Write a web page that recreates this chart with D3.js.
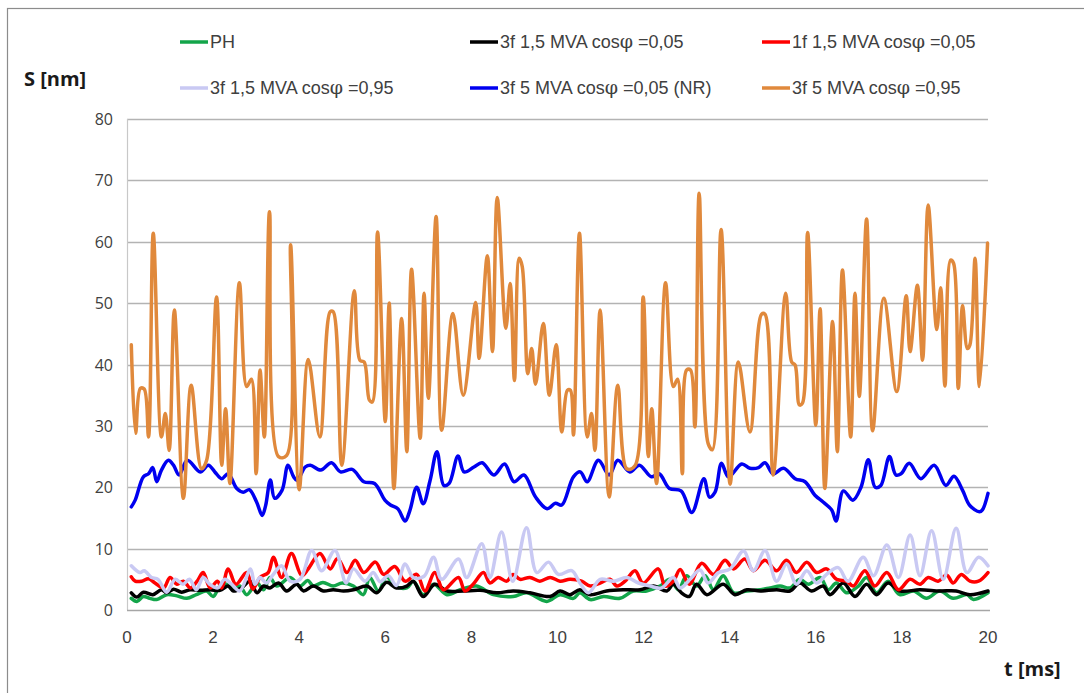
<!DOCTYPE html>
<html>
<head>
<meta charset="utf-8">
<script src="https://cdn.jsdelivr.net/npm/d3@7"></script>
<style>
  body { margin: 0; background: #fff; }
  svg { display: block; }
</style>
</head>
<body>
<script>
// t [ms], S [nm] (peaks and troughs)
const ph = [[0.1,1.9],[0.23,1.4],[0.38,2.2],[0.53,1.9],[0.69,1.7],[0.92,2.5],[1.16,2.3],[1.39,1.9],[1.61,2.5],[1.85,3.1],[2.0,2.2],[2.16,3.9],[2.31,4.2],[2.47,3.3],[2.62,3.9],[2.78,2.5],[3.02,4.4],[3.17,3.3],[3.32,5.3],[3.48,3.9],[3.79,5.3],[4.02,3.9],[4.2,4.8],[4.33,3.9],[4.55,4.5],[4.79,3.9],[5.0,4.4],[5.26,3.9],[5.49,2.5],[5.64,5.3],[5.84,3.1],[6.03,5.4],[6.22,3.9],[6.5,3.6],[6.65,4.7],[6.88,2.5],[7.12,4.2],[7.43,2.5],[7.74,3.3],[8.12,3.9],[8.51,2.5],[8.97,2.2],[9.28,2.8],[9.75,1.4],[10.06,2.5],[10.37,1.9],[10.52,2.8],[10.76,1.7],[11.07,2.2],[11.45,1.9],[11.76,3.1],[12.07,3.1],[12.38,3.9],[12.61,5],[12.81,3.3],[13.0,5.6],[13.23,3.9],[13.43,5.6],[13.62,3.3],[13.85,5.6],[14.09,2.8],[14.4,3.1],[14.71,3.3],[14.94,3.6],[15.17,3.9],[15.4,3.6],[15.63,5],[15.83,4.2],[16.1,5.3],[16.29,3.3],[16.48,4.4],[16.72,2.8],[16.99,3.9],[17.18,5.3],[17.41,2.8],[17.68,4.7],[17.95,2.5],[18.27,3.1],[18.57,1.9],[18.88,3.1],[19.19,1.9],[19.51,2.5],[19.66,1.7],[20,2.8]];

const f3_15_005 = [[0.1,2.8],[0.23,2.1],[0.38,2.9],[0.6,2.5],[0.8,3.3],[0.92,2.8],[1.08,3.4],[1.27,2.9],[1.47,3.3],[1.7,3.2],[1.93,3.3],[2.16,3.2],[2.35,3.9],[2.47,3.1],[2.66,3.6],[2.86,4.7],[3.02,2.8],[3.17,3.9],[3.32,3.6],[3.52,4.4],[3.71,3.1],[3.94,4.2],[4.1,3.1],[4.33,3.9],[4.56,3.1],[4.79,3.3],[5.03,3.1],[5.26,3.3],[5.57,3.9],[5.8,2.8],[6.03,4.5],[6.26,3.6],[6.5,3.9],[6.65,4.7],[6.88,2.2],[7.15,4.2],[7.43,3.1],[7.81,3.1],[8.2,3.2],[8.59,2.8],[8.97,3.1],[9.36,2.8],[9.83,2.2],[10.06,3.1],[10.29,2.5],[10.52,3.3],[10.76,2.5],[11.14,3.1],[11.53,3.3],[11.92,3.3],[12.23,3.9],[12.54,3.1],[12.69,4.2],[12.88,2.8],[13.06,2.2],[13.23,4.2],[13.47,2.5],[13.85,4.2],[14.12,2.5],[14.4,3.3],[14.71,3.1],[15.09,3.3],[15.4,3.1],[15.63,4.4],[15.9,3.1],[16.17,3.9],[16.33,2.5],[16.64,4.4],[16.91,2.2],[17.18,4.2],[17.41,2.5],[17.68,4.4],[17.95,3.1],[18.42,3.3],[18.88,3.1],[19.26,3.1],[19.58,2.5],[20,3.1]];

const f1_15_005 = [[0.1,5.4],[0.19,4.7],[0.34,4.7],[0.5,5.1],[0.65,4.4],[0.85,3.6],[1.0,5.3],[1.16,4.2],[1.31,4.7],[1.47,3.6],[1.63,4.7],[1.77,6.1],[1.93,3.6],[2.1,4.7],[2.2,3.6],[2.35,6.7],[2.53,4.2],[2.78,6.1],[2.92,3.4],[3.09,5.3],[3.28,6.1],[3.4,8.6],[3.59,5.3],[3.82,9.2],[4.06,5.6],[4.21,6.7],[4.48,9.2],[4.72,6.7],[4.89,8.4],[5.11,6.1],[5.3,8.1],[5.5,6.1],[5.77,7.8],[5.96,5.8],[6.22,7.1],[6.46,4.7],[6.73,5.8],[6.92,3.1],[7.15,6.1],[7.35,3.3],[7.7,5.3],[7.85,3.1],[8.04,4.2],[8.28,6.1],[8.43,4.4],[8.62,5.3],[8.82,4.7],[8.97,5.8],[9.13,5],[9.36,5.3],[9.59,4.7],[9.83,5.3],[10.06,4.7],[10.29,5],[10.56,4.7],[10.76,3.9],[10.99,4.4],[11.22,5],[11.38,3.9],[11.57,4.7],[11.8,6.4],[11.99,4.4],[12.34,6.7],[12.5,3.9],[12.69,4.7],[12.85,6.6],[13.06,4.2],[13.35,7.6],[13.62,5.8],[13.89,8.1],[14.09,6.7],[14.35,8.3],[14.55,6.4],[14.82,8.1],[15.09,6.4],[15.32,8.1],[15.55,6.1],[15.79,7.8],[16.02,6.1],[16.25,6.7],[16.48,5],[16.72,4.7],[16.87,3.9],[17.14,6.4],[17.37,3.9],[17.65,6.1],[17.92,3.3],[18.19,5],[18.42,4.2],[18.61,5.3],[18.84,4.7],[19.04,5.7],[19.19,4.4],[19.38,5.8],[19.58,4.7],[19.78,4.7],[20,6.1]];

const f3_15_095 = [[0.1,7.2],[0.3,6.1],[0.4,6.4],[0.57,5.3],[0.72,5],[0.92,2.9],[1.12,5],[1.3,4.2],[1.45,5],[1.61,3.3],[1.77,5.3],[1.92,4.2],[2.11,3.6],[2.27,5],[2.43,4.2],[2.62,3.1],[2.87,6.7],[2.97,4.2],[3.09,5.3],[3.24,4.4],[3.4,5.8],[3.59,7.2],[3.79,4.7],[4.02,5],[4.29,9.7],[4.52,6.4],[4.83,9.7],[5.09,4.4],[5.26,6.7],[5.53,4.7],[5.72,6.1],[5.88,4.6],[6.07,5.6],[6.26,4],[6.46,7.5],[6.65,5.3],[6.9,5.5],[7.12,8.6],[7.31,5],[7.7,8.3],[7.89,5.3],[8.24,10.8],[8.43,5.3],[8.7,12.7],[8.96,4.7],[9.28,13.4],[9.52,6.1],[9.79,7.8],[10.02,5.8],[10.33,6.4],[10.52,4.4],[10.72,2.8],[10.99,5],[11.3,4.7],[11.61,5.3],[11.88,4.4],[12.15,3.9],[12.42,3.6],[12.69,5.3],[12.85,3.6],[13.08,5],[13.31,6.5],[13.5,4.4],[13.74,6.1],[14.01,6.7],[14.32,9.6],[14.55,6.4],[14.82,9.7],[15.09,4.7],[15.32,7.5],[15.55,4.2],[15.79,6.4],[16.02,4.4],[16.25,5.8],[16.52,6.9],[16.75,4.7],[17.1,8.6],[17.34,5.6],[17.65,10.6],[17.92,5.3],[18.19,12.2],[18.42,5.6],[18.69,12.9],[18.96,5],[19.26,13.3],[19.51,6.1],[19.78,8.6],[20,7.2]];

const f3_5_005 = [[0.1,16.8],[0.19,17.9],[0.38,21.7],[0.5,22.2],[0.6,23.2],[0.69,20.9],[0.8,22.8],[0.96,24.4],[1.08,23.6],[1.21,22],[1.4,24.4],[1.7,22.5],[1.89,23.6],[2.04,22.5],[2.2,21.4],[2.35,22.2],[2.55,19.8],[2.7,19.2],[2.84,19.6],[3.01,17.6],[3.14,15.4],[3.22,17],[3.33,21.2],[3.43,18.2],[3.6,19.5],[3.74,23.6],[3.87,21.7],[3.95,21.1],[4.14,23.3],[4.26,23.6],[4.5,22.8],[4.75,24],[4.96,22.5],[5.23,22.9],[5.5,20.9],[5.75,20.6],[5.99,17.9],[6.12,17.1],[6.29,16.5],[6.46,14.5],[6.57,16.2],[6.73,20],[6.88,17.3],[7.04,21.1],[7.2,25.8],[7.36,20.3],[7.48,20.6],[7.69,25.1],[7.83,22.5],[8.06,23.3],[8.25,24],[8.52,22],[8.77,23.8],[8.99,20.9],[9.22,22],[9.49,18.4],[9.76,16.5],[9.95,17.4],[10.1,17.1],[10.37,21.7],[10.53,22.5],[10.69,20.9],[10.95,24.4],[11.2,22],[11.4,24.4],[11.68,22.5],[11.9,23.6],[12.18,21.7],[12.36,22.2],[12.6,19.8],[12.87,19.4],[13.12,15.9],[13.4,21.4],[13.53,18.4],[13.66,19.2],[13.81,23.9],[13.97,21.7],[14.28,23.8],[14.47,23.1],[14.67,23.2],[14.82,24],[15.01,22.2],[15.25,23.1],[15.52,21.4],[15.75,20.9],[15.98,18.7],[16.17,17.6],[16.37,16.3],[16.47,14.5],[16.64,19.4],[16.86,17.9],[17.05,20],[17.22,24.5],[17.38,20],[17.51,20.3],[17.71,25],[17.86,22],[17.98,22.2],[18.17,23.9],[18.44,21.4],[18.75,23.6],[19.02,20.3],[19.21,21.8],[19.41,19.5],[19.57,17.1],[19.8,16],[19.87,16.3],[20,19]];

const f3_5_095 = [[0.1,43.2],[0.2,28.8],[0.31,36.1],[0.4,36],[0.5,28.2],[0.61,61.4],[0.8,28.2],[0.89,32],[0.98,26],[1.1,48.9],[1.31,18.2],[1.49,36.6],[1.73,23],[1.85,24.4],[2.08,51],[2.2,23.6],[2.29,32.8],[2.39,20.6],[2.61,53.3],[2.78,36.4],[2.89,37.6],[3.0,22.2],[3.09,39.1],[3.19,28.2],[3.31,64.9],[3.52,25],[3.71,25.2],[3.8,59.5],[4.0,19.6],[4.21,40.8],[4.48,28.2],[4.72,48.6],[4.79,48.6],[4.99,23.6],[5.28,52],[5.41,40.7],[5.51,40.4],[5.63,34.2],[5.7,33.9],[5.82,61.6],[6.0,30.7],[6.09,50],[6.2,19.8],[6.38,47.5],[6.5,25.8],[6.61,55.5],[6.81,28],[6.9,51.6],[7.0,34.5],[7.18,64.1],[7.31,29.3],[7.57,48.3],[7.81,35],[8.1,50.1],[8.18,41],[8.37,57.7],[8.49,42.1],[8.6,67.2],[8.8,45.9],[8.9,53.2],[9.0,37.4],[9.11,57.3],[9.18,56],[9.31,38.5],[9.4,42.6],[9.49,36.8],[9.67,46.7],[9.81,35],[9.97,43.2],[10.1,29],[10.23,35.8],[10.3,35.8],[10.37,28.5],[10.51,61.4],[10.69,28.2],[10.79,32],[10.87,26],[10.99,48.9],[11.2,18.4],[11.4,36.6],[11.61,23],[11.8,23.5],[11.99,51],[12.11,25],[12.19,32.8],[12.3,20.6],[12.51,53.3],[12.69,36.4],[12.79,37.6],[12.9,22.2],[13.0,39.1],[13.09,39.1],[13.19,29.8],[13.29,67.9],[13.5,27.1],[13.6,26.1],[13.8,62],[14.01,20.5],[14.2,40.4],[14.47,29],[14.74,48.2],[14.82,48.2],[15.01,22],[15.3,51.6],[15.44,40.4],[15.52,39.9],[15.62,33.4],[15.69,33.7],[15.81,61.5],[16.0,30.1],[16.1,49.1],[16.21,19.8],[16.39,47],[16.5,25.8],[16.62,55.4],[16.81,28.2],[16.91,51.6],[17.01,34.8],[17.18,63.7],[17.32,29.2],[17.58,50.8],[17.88,35.6],[18.1,51.2],[18.19,42.1],[18.36,52.9],[18.48,40.7],[18.61,66],[18.81,45.7],[18.9,52.5],[19.0,36.5],[19.13,57],[19.2,56.5],[19.31,36.1],[19.41,49.6],[19.52,42.6],[19.58,43.2],[19.7,57.3],[19.8,36.4],[19.99,59.8]];

const seriesNames = ["PH", "3f 1,5 MVA cos|φ| =0,05", "1f 1,5 MVA cos|φ| =0,05",
                     "3f 1,5 MVA cos|φ| =0,95", "3f 5 MVA cos|φ| =0,05 (NR)", "3f 5 MVA cos|φ| =0,95"];
const seriesData = [ph, f3_15_005, f1_15_005, f3_15_095, f3_5_005, f3_5_095];
const seriesColors = ["#13a54a", "#000000", "#ff0000", "#c9c9f3", "#0000f0", "#e0893c"];

const xTicks = d3.range(0, 21, 2);
const yTicks = d3.range(0, 81, 10);

const width = 1084, height = 693;
const svg = d3.select("body").append("svg")
    .attr("width", width)
    .attr("height", height);

svg.append("rect").attr("width", width).attr("height", height).attr("fill", "#fff");
// outer chart frame (runs off the right and bottom edge)
svg.append("rect")
    .attr("x", 7.5).attr("y", 8.5)
    .attr("width", width + 20).attr("height", height + 20)
    .attr("fill", "none").attr("stroke", "#8c8c8c").attr("stroke-width", 1.2);

const x = d3.scaleLinear().domain([0, 20]).range([127, 988]);
const y = d3.scaleLinear().domain([0, 80]).range([610, 119]);

// gridlines
svg.append("g")
    .selectAll("line")
    .data(yTicks.filter(d => d > 0))
    .enter().append("line")
    .attr("x1", x(0)).attr("x2", x(20))
    .attr("y1", d => Math.round(y(d)) + 0.5).attr("y2", d => Math.round(y(d)) + 0.5)
    .attr("stroke", "#b3b3b3").attr("stroke-width", 1.3);

svg.append("line")
    .attr("x1", x(0) + 0.5).attr("x2", x(0) + 0.5)
    .attr("y1", y(80)).attr("y2", y(0))
    .attr("stroke", "#c8c8c8").attr("stroke-width", 1.2);
svg.append("line")
    .attr("x1", x(0)).attr("x2", x(20) + 2)
    .attr("y1", Math.round(y(0)) + 0.5).attr("y2", Math.round(y(0)) + 0.5)
    .attr("stroke", "#a6a6a6").attr("stroke-width", 1.3);

// tick labels
svg.append("g")
    .selectAll("text")
    .data(yTicks)
    .enter().append("text")
    .attr("x", 113)
    .attr("y", d => y(d) + 6)
    .attr("text-anchor", "end")
    .style("font-family", "'Open Sans', sans-serif")
    .style("font-size", "16px")
    .style("fill", "#404040")
    .text(d => d);

svg.append("g")
    .selectAll("text")
    .data(xTicks)
    .enter().append("text")
    .attr("x", d => x(d))
    .attr("y", 643)
    .attr("text-anchor", "middle")
    .style("font-family", "'Liberation Sans Narrow', 'Arial Narrow', sans-serif")
    .style("font-size", "17px")
    .style("fill", "#404040")
    .text(d => d);

// axis titles
svg.append("text")
    .attr("x", 24).attr("y", 86)
    .style("font-family", "'Open Sans', sans-serif")
    .style("font-weight", "bold")
    .style("font-size", "20px")
    .style("fill", "#1a1a1a")
    .text("S [nm]");

svg.append("text")
    .attr("x", 1004).attr("y", 676)
    .style("font-family", "'Open Sans', sans-serif")
    .style("font-weight", "bold")
    .style("font-size", "20px")
    .style("fill", "#1a1a1a")
    .text("t [ms]");

// series
const line = d3.line()
    .x(d => x(d[0]))
    .y(d => y(d[1]))
    .curve(d3.curveCatmullRom.alpha(0.5));

svg.append("g")
    .selectAll("path")
    .data(seriesData)
    .enter().append("path")
    .attr("d", line)
    .attr("fill", "none")
    .attr("stroke", (d, i) => seriesColors[i])
    .attr("stroke-width", 3.5)
    .attr("stroke-linejoin", "round")
    .attr("stroke-linecap", "round");

// legend, 3 columns x 2 rows
const legendX = [180, 470, 762];
const legendY = [42, 88];
const legend = svg.append("g")
    .selectAll("g")
    .data(seriesNames)
    .enter().append("g")
    .attr("transform", (d, i) => `translate(${legendX[i % 3]},${legendY[Math.floor(i / 3)]})`);

legend.append("line")
    .attr("x1", 0).attr("x2", 28)
    .attr("stroke", (d, i) => seriesColors[i])
    .attr("stroke-width", 3.5);

const lt = legend.append("text")
    .attr("x", 30).attr("y", 6)
    .style("font-family", "'Liberation Sans Narrow', 'Arial Narrow', sans-serif")
    .style("font-size", "18px")
    .style("fill", "#404040");

lt.each(function(d) {
    const parts = d.split("|");
    const t = d3.select(this);
    parts.forEach((p, k) => {
        const ts = t.append("tspan").text(p);
        if (k === 1) ts.style("font-family", "'DejaVu Serif', serif").style("font-size", "19px");
    });
});
</script>
</body>
</html>
